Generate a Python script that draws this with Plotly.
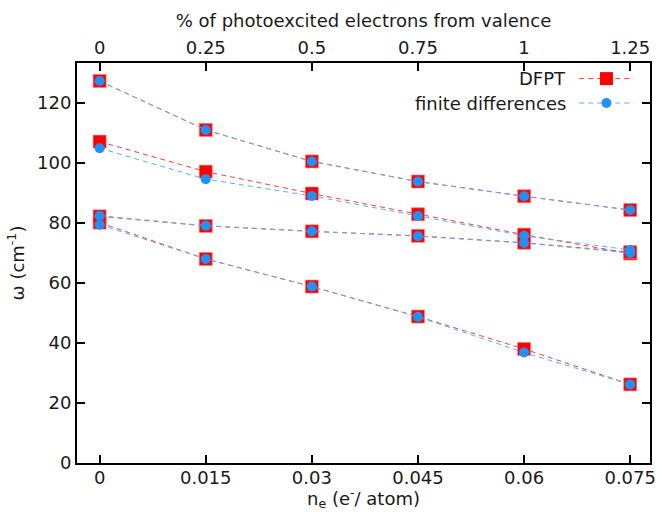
import plotly.graph_objects as go

# Electron density per atom (bottom axis) and matching % of valence electrons (top axis)
n_e = [0.0, 0.015, 0.03, 0.045, 0.06, 0.075]
x_ticks = [0, 0.015, 0.03, 0.045, 0.06, 0.075]
x_ticklabels = ["0", "0.015", "0.03", "0.045", "0.06", "0.075"]
pct_ticklabels = ["0", "0.25", "0.5", "0.75", "1", "1.25"]
y_ticks = [0, 20, 40, 60, 80, 100, 120]

# Phonon frequencies (cm^-1), one list per mode
dfpt_mode1 = [127.3, 111.0, 100.5, 93.8, 88.9, 84.3]
dfpt_mode2 = [107.1, 97.1, 89.8, 82.9, 76.1, 69.8]
dfpt_mode3 = [82.2, 79.0, 77.2, 75.7, 73.4, 70.3]
dfpt_mode4 = [80.1, 68.0, 58.8, 48.8, 38.0, 26.2]

fd_mode1 = [127.3, 111.0, 100.5, 93.8, 88.9, 84.3]
fd_mode2 = [104.9, 94.6, 89.0, 82.3, 75.7, 71.0]
fd_mode3 = [82.4, 79.1, 77.2, 75.6, 73.3, 70.0]
fd_mode4 = [79.4, 68.0, 58.8, 48.7, 36.8, 26.2]

dfpt_modes = [dfpt_mode1, dfpt_mode2, dfpt_mode3, dfpt_mode4]
fd_modes = [fd_mode1, fd_mode2, fd_mode3, fd_mode4]

RED = "#ff0000"
RED_LINE = "#ff3b3b"
BLUE = "#2191f5"
BLUE_LINE = "#5aaeff"
FONT = "DejaVu Sans"
TXT = "#1a1a1a"
FS = 18

fig = go.Figure()

for mode in dfpt_modes:
    fig.add_trace(go.Scatter(
        x=n_e, y=mode, mode="lines+markers", showlegend=False,
        line=dict(color=RED_LINE, width=1, dash="5px,4px"),
        marker=dict(symbol="square", size=13, color=RED,
                    line=dict(color="rgba(255,120,120,0.6)", width=1)),
    ))

for mode in fd_modes:
    fig.add_trace(go.Scatter(
        x=n_e, y=mode, mode="lines+markers", showlegend=False,
        line=dict(color=BLUE_LINE, width=1, dash="5px,4px"),
        marker=dict(symbol="circle", size=10, color=BLUE,
                    line=dict(width=0)),
    ))

# Invisible trace to carry the top axis
fig.add_trace(go.Scatter(x=n_e, y=dfpt_mode1, xaxis="x2", mode="markers",
                         marker=dict(opacity=0), showlegend=False,
                         hoverinfo="skip"))

x_range = [-0.0032, 0.0778]
y_range = [0, 133.3]

axis_common = dict(
    showline=True, linewidth=2, linecolor="black",
    ticks="inside", ticklen=8, tickwidth=1.5, tickcolor="black",
    showgrid=False, zeroline=False,
    tickfont=dict(family=FONT, size=FS, color=TXT),
)

fig.update_layout(
    width=661, height=512,
    margin=dict(l=77, r=5, t=63, b=49),
    plot_bgcolor="white", paper_bgcolor="white",
    font=dict(family=FONT, color=TXT),
    showlegend=False,
    xaxis=dict(
        range=x_range, tickvals=x_ticks, ticktext=x_ticklabels,
        mirror=True, ticklabelstandoff=-3,
        **axis_common,
    ),
    xaxis2=dict(
        range=x_range, tickvals=x_ticks, ticktext=pct_ticklabels,
        overlaying="x", side="top", anchor="y",
        title=dict(text="% of photoexcited electrons from valence",
                   font=dict(family=FONT, size=FS, color=TXT), standoff=4),
        **axis_common,
    ),
    yaxis=dict(
        range=y_range, tickvals=y_ticks, mirror="ticks",
        title=dict(text="ω (cm<sup>-1</sup>)",
                   font=dict(family=FONT, size=FS, color=TXT), standoff=8),
        **axis_common,
    ),
)

annotations = [dict(
    text="n<sub>e</sub> (e<sup>-</sup>/ atom)",
    x=0.5, y=-0.087, xref="paper", yref="paper",
    xanchor="center", yanchor="middle", showarrow=False,
    font=dict(family=FONT, size=FS, color=TXT),
)]

# Key in the upper right: label first, then the line/marker sample
legend_rows = [
    ("DFPT", 0.961, RED_LINE, "square"),
    ("finite differences", 0.90, BLUE_LINE, "circle"),
]
label_x = 0.857
sample_x = 0.924
shapes = []
for label, ly, lcolor, sym in legend_rows:
    annotations.append(dict(
        text=label, x=label_x, y=ly, xref="paper", yref="paper",
        xanchor="right", yanchor="middle", showarrow=False,
        font=dict(family=FONT, size=FS, color=TXT),
    ))
    shapes.append(dict(
        type="line", xref="paper", yref="paper",
        x0=sample_x - 0.0475, x1=sample_x + 0.0475, y0=ly, y1=ly,
        line=dict(color=lcolor, width=1, dash="5px,4px"),
    ))
    if sym == "square":
        shapes.append(dict(
            type="rect", xref="paper", yref="paper",
            xsizemode="pixel", ysizemode="pixel",
            xanchor=sample_x, yanchor=ly,
            x0=-6.5, x1=6.5, y0=-6.5, y1=6.5,
            fillcolor=RED, line=dict(width=0),
        ))
    else:
        shapes.append(dict(
            type="circle", xref="paper", yref="paper",
            xsizemode="pixel", ysizemode="pixel",
            xanchor=sample_x, yanchor=ly,
            x0=-5, x1=5, y0=-5, y1=5,
            fillcolor=BLUE, line=dict(width=0),
        ))

fig.update_layout(shapes=shapes, annotations=annotations)

fig.write_html("out.html")
